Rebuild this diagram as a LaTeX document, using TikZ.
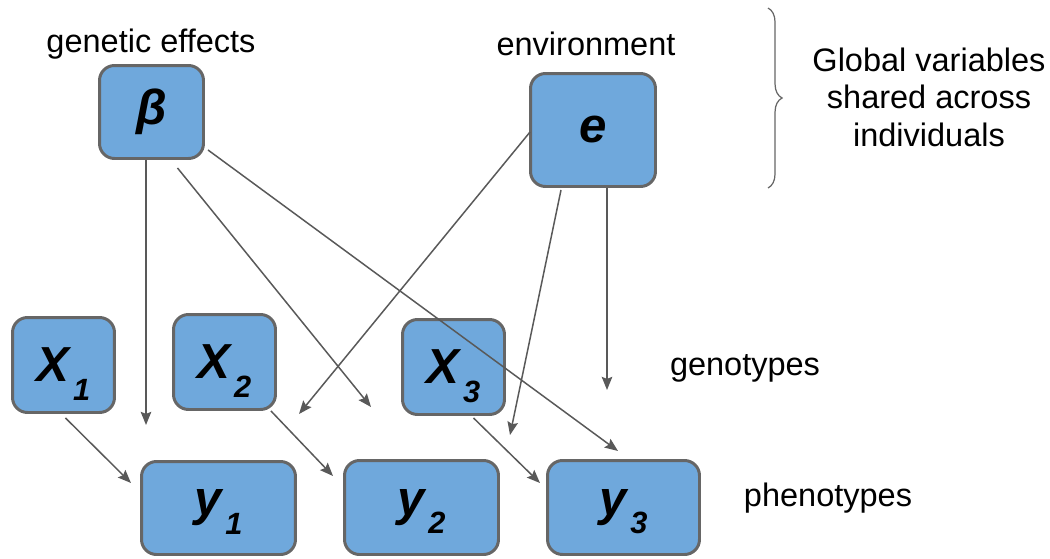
\documentclass[tikz,border=0pt]{standalone}
\usepackage{fontspec}
\setmainfont{Liberation Sans}
\usetikzlibrary{arrows.meta,calc,decorations.pathreplacing}
\definecolor{boxfill}{HTML}{6FA8DC}
\definecolor{boxline}{HTML}{666666}
\definecolor{arrowgray}{HTML}{595959}
\newcommand{\varsym}[2]{{\fontsize{28}{28}\selectfont\bfseries\itshape #1}\ifx&#2&\else{\fontsize{17.5}{18}\selectfont\bfseries\itshape\hspace{0.12em}\smash{\raisebox{-0.6em}{#2}}}\fi}
\tikzset{
  varbox/.style={draw=boxline, fill=boxfill, line width=1.7pt, rounded corners=0.3cm, inner sep=0pt, align=center},
  conn/.style={draw=arrowgray, line width=0.85pt, -{Stealth[length=7.5pt,width=6pt,inset=1.2pt]}},
  lbl/.style={font=\fontsize{18.5}{21.3}\selectfont, align=center, inner sep=0pt}
}
\begin{document}
\begin{tikzpicture}[x=0.02cm,y=-0.02cm]
\useasboundingbox (0,0) rectangle (1050,558);
% boxes
\node[varbox, minimum width=2.08cm, minimum height=1.86cm] (beta) at (151.5,112) {\varsym{β}{}};
\node[varbox, minimum width=2.50cm, minimum height=2.26cm] (env) at (593,130) {\varsym{e}{}};
\node[varbox, minimum width=2.04cm, minimum height=1.90cm] (x1) at (63.5,365) {\varsym{X}{1}};
\node[varbox, minimum width=2.04cm, minimum height=1.90cm] (x2) at (224.5,362) {\varsym{X}{2}};
\node[varbox, minimum width=2.04cm, minimum height=1.90cm] (x3) at (453.5,367) {\varsym{X}{3}};
\node[varbox, minimum width=3.08cm, minimum height=1.86cm] (y1) at (218.5,508) {\varsym{y}{1}};
\node[varbox, minimum width=3.08cm, minimum height=1.88cm] (y2) at (421.5,507.5) {\varsym{y}{2}};
\node[varbox, minimum width=3.04cm, minimum height=1.88cm] (y3) at (623.5,507.5) {\varsym{y}{3}};
% labels
\node[lbl] (lgen) at (151,44) {genetic effects};
\node[lbl] (lenv) at (586,44) {environment};
\node[lbl] (lglob) at (929,97) {Global variables\\shared across\\individuals};
\node[lbl] (lgeno) at (745,368) {genotypes};
\node[lbl] (lpheno) at (828,498) {phenotypes};
% brace
\draw[decorate, decoration={brace, amplitude=8pt}, draw=boxline, line width=0.7pt] (768,8) -- (768,188);
% arrow end points
\coordinate (t1) at (146,425);
\coordinate (t2) at (371,407);
\coordinate (t3) at (618,451);
\coordinate (t4) at (299,414);
\coordinate (t5) at (510,435);
\coordinate (t6) at (607,390);
\coordinate (t7) at (131,483);
\coordinate (t8) at (333,476);
\coordinate (t9) at (540,483);
% connectors
\draw[conn] (beta.south -| t1) -- (t1);
\draw[conn] ($(beta.south)+(26,8)$) -- (t2);
\draw[conn] ($(beta.south east)+(3,-10)$) -- (t3);
\draw[conn] ($(env.west)+(1,2)$) -- (t4);
\draw[conn] ($(env.south)+(-32,2)$) -- (t5);
\draw[conn] (env.south -| t6) -- (t6);
\draw[conn] ($(x1.south)+(2,4)$) -- (t7);
\draw[conn] ($(x2.south east)+(-6,0)$) -- (t8);
\draw[conn] ($(x3.south)+(20,2)$) -- (t9);
\end{tikzpicture}
\end{document}
